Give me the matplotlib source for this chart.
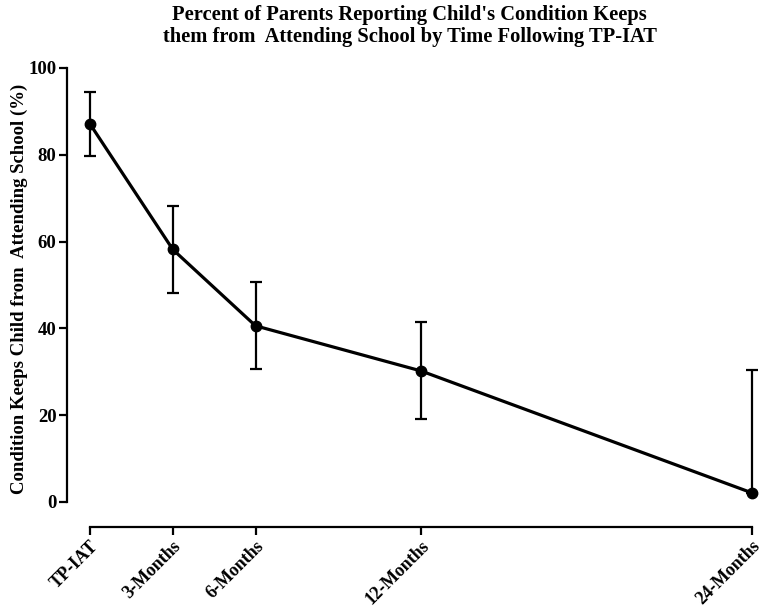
import matplotlib
matplotlib.use("Agg")
import matplotlib.pyplot as plt

months = [0, 3, 6, 12, 24]
labels = ["TP-IAT", "3-Months", "6-Months", "12-Months", "24-Months"]
percent = [87.1, 58.2, 40.6, 30.2, 2.1]
err_low = [7.3, 10.0, 10.0, 11.1, 0.0]
err_high = [7.4, 10.0, 10.1, 11.3, 28.3]

plt.rcParams['font.family'] = ['Liberation Serif', 'DejaVu Serif']
plt.rcParams['font.weight'] = 'bold'

fig = plt.figure(figsize=(7.64, 6.09), dpi=100)
ax = fig.add_axes([67/764, 107/609, (752-67)/764, (502-68)/609])

for s in ['top', 'right']:
    ax.spines[s].set_visible(False)
ax.spines['left'].set_linewidth(1.6)
ax.spines['bottom'].set_linewidth(1.6)
ax.spines['bottom'].set_position(('outward', 18))

ax.errorbar(months, percent, yerr=[err_low, err_high], color='black', lw=2.3,
            marker='o', ms=7.5, elinewidth=1.6, capsize=4.5, capthick=1.6,
            clip_on=False, zorder=3)

ax.set_xlim(-23/27.58, 24)
ax.set_ylim(0, 100)
ax.spines['bottom'].set_bounds(0, 24)
ax.set_yticks([0, 20, 40, 60, 80, 100])
ax.set_xticks(months)
ax.tick_params(axis='both', width=1.6, length=5.5, direction='out', pad=2)
ax.tick_params(axis='y', labelsize=13.5)
ax.set_xticklabels(labels, rotation=45, ha='right', rotation_mode='anchor',
                   fontsize=13, fontweight='bold')
for t in ax.get_yticklabels():
    t.set_fontweight('bold')

ax.set_ylabel("Condition Keeps Child from  Attending School (%)", fontsize=13.5,
              fontweight='bold')
ax.yaxis.set_label_coords(-0.057, 0.49)
ax.set_title("Percent of Parents Reporting Child's Condition Keeps\n"
             "them from  Attending School by Time Following TP-IAT",
             fontsize=14.8, fontweight='bold', pad=19, linespacing=1.1)

fig.savefig("out.png", dpi=100)
